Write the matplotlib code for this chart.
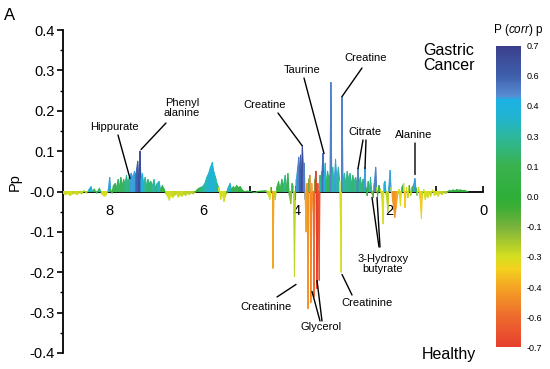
import numpy as np
import matplotlib
matplotlib.use("Agg")
import matplotlib.pyplot as plt
from matplotlib.collections import PolyCollection
from matplotlib.colors import LinearSegmentedColormap, Normalize
from matplotlib.cm import ScalarMappable

plt.rcParams["font.family"] = ["Liberation Sans", "DejaVu Sans"]
plt.rcParams["axes.unicode_minus"] = False
plt.rcParams["mathtext.fontset"] = "custom"
plt.rcParams["mathtext.rm"] = "Liberation Sans"
plt.rcParams["mathtext.it"] = "Liberation Sans:italic"

# S-line loadings: chemical shift (ppm), Pp, p(corr)
ppm = [
    9.00, 8.95, 8.90, 8.85, 8.80, 8.75, 8.70, 8.65, 8.60, 8.55, 8.50, 8.45,
    8.40, 8.37, 8.33, 8.28, 8.22, 8.17, 8.12, 8.07, 8.03, 8.00, 7.98, 7.95,
    7.92, 7.88, 7.85, 7.82, 7.79, 7.76, 7.73, 7.70, 7.67, 7.64, 7.61, 7.58,
    7.56, 7.54, 7.50, 7.47, 7.44, 7.40, 7.38, 7.35, 7.33, 7.30, 7.27, 7.24,
    7.21, 7.18, 7.15, 7.12, 7.08, 7.05, 7.02, 6.98, 6.94, 6.91, 6.87, 6.83,
    6.80, 6.76, 6.72, 6.69, 6.65, 6.61, 6.57, 6.53, 6.49, 6.45, 6.41, 6.37,
    6.33, 6.29, 6.25, 6.21, 6.17, 6.13, 6.09, 6.05, 6.01, 5.96, 5.92, 5.88,
    5.84, 5.80, 5.77, 5.73, 5.70, 5.66, 5.62, 5.59, 5.55, 5.52, 5.49, 5.46,
    5.42, 5.39, 5.35, 5.31, 5.28, 5.24, 5.20, 5.16, 5.12, 5.05, 4.95, 4.85,
    4.75, 4.65, 4.60, 4.57, 4.54, 4.51, 4.50, 4.48, 4.45, 4.42, 4.38, 4.35,
    4.31, 4.27, 4.24, 4.21, 4.18, 4.15, 4.12, 4.09, 4.06, 4.04, 4.02, 4.00,
    3.97, 3.95, 3.93, 3.91, 3.89, 3.87, 3.85, 3.83, 3.81, 3.79, 3.77, 3.75,
    3.73, 3.71, 3.69, 3.67, 3.64, 3.62, 3.60, 3.58, 3.56, 3.54, 3.51, 3.49,
    3.47, 3.45, 3.43, 3.41, 3.38, 3.36, 3.33, 3.30, 3.28, 3.26, 3.24, 3.22,
    3.19, 3.16, 3.13, 3.10, 3.07, 3.04, 3.03, 3.02, 3.00, 2.97, 2.94, 2.91,
    2.88, 2.85, 2.82, 2.79, 2.76, 2.73, 2.70, 2.68, 2.66, 2.63, 2.60, 2.57,
    2.55, 2.53, 2.51, 2.48, 2.46, 2.43, 2.41, 2.38, 2.35, 2.33, 2.30, 2.28,
    2.26, 2.23, 2.20, 2.17, 2.14, 2.12, 2.10, 2.07, 2.04, 2.02, 1.99, 1.97,
    1.94, 1.91, 1.89, 1.86, 1.83, 1.80, 1.77, 1.74, 1.70, 1.67, 1.64, 1.61,
    1.58, 1.55, 1.52, 1.49, 1.46, 1.44, 1.41, 1.38, 1.35, 1.32, 1.30, 1.27,
    1.24, 1.21, 1.18, 1.15, 1.12, 1.08, 1.04, 1.00, 0.96, 0.92, 0.88, 0.84,
    0.80, 0.76, 0.72, 0.68, 0.64, 0.60, 0.56, 0.52, 0.48, 0.44, 0.40, 0.36,
    0.32,
]
pp = [
    -0.004, -0.008, -0.005, -0.010, -0.006, -0.004, -0.008, -0.003, -0.006, 0.002, -0.004, 0.004,
    0.012, 0.000, 0.006, -0.004, 0.008, -0.006, -0.012, -0.008, 0.005, 0.035, 0.005, -0.004,
    0.015, 0.020, 0.010, 0.030, 0.012, 0.035, 0.015, 0.030, 0.020, 0.040, 0.020, 0.035,
    0.030, 0.045, 0.035, 0.050, 0.040, 0.075, 0.030, 0.100, 0.030, 0.045, 0.020, 0.035,
    0.015, 0.030, 0.020, 0.025, 0.015, 0.030, 0.010, 0.020, 0.025, 0.005, 0.015, 0.005,
    -0.005, -0.012, -0.022, -0.008, -0.015, -0.010, -0.005, -0.014, -0.008, -0.012, -0.006, -0.010,
    -0.004, -0.008, -0.003, -0.006, -0.002, 0.004, 0.008, 0.010, 0.012, 0.020, 0.035, 0.045,
    0.060, 0.072, 0.050, 0.035, 0.020, 0.010, -0.020, -0.005, -0.025, -0.012, -0.004, 0.010,
    0.020, 0.005, 0.012, 0.008, 0.015, 0.010, 0.012, 0.004, 0.000, 0.001, 0.000, 0.000,
    0.001, 0.002, -0.008, -0.020, 0.010, -0.010, -0.190, -0.010, -0.020, 0.010, 0.025, 0.005,
    0.030, 0.015, 0.040, 0.010, 0.045, -0.010, -0.030, 0.020, 0.010, -0.210, -0.020, 0.030,
    0.060, 0.085, 0.050, 0.090, 0.040, 0.114, 0.060, 0.070, -0.020, -0.100, 0.020, -0.290,
    0.030, 0.040, -0.275, 0.020, -0.050, -0.260, 0.030, 0.050, -0.240, 0.020, -0.220, 0.040,
    0.020, 0.050, 0.094, 0.030, 0.070, 0.020, 0.050, 0.030, 0.040, 0.270, 0.030, 0.060,
    0.020, 0.080, 0.030, 0.060, 0.025, -0.200, 0.020, 0.235, 0.030, 0.045, 0.020, 0.050,
    0.030, 0.045, 0.020, 0.040, 0.025, 0.035, 0.020, 0.057, 0.020, 0.035, 0.015, 0.030,
    0.020, 0.060, 0.010, -0.010, 0.025, 0.010, 0.035, -0.005, -0.015, 0.020, 0.060, 0.010,
    -0.012, 0.015, 0.005, -0.015, -0.080, 0.020, 0.025, -0.010, -0.050, 0.010, 0.052, 0.010,
    -0.020, -0.045, -0.064, -0.040, -0.010, 0.005, -0.035, 0.010, 0.020, -0.040, 0.010, -0.015,
    0.015, -0.010, 0.010, 0.015, 0.032, 0.010, -0.010, 0.010, -0.015, -0.067, -0.010, 0.005,
    -0.020, -0.010, -0.015, -0.005, -0.012, 0.004, -0.010, -0.006, -0.012, -0.003, -0.008, -0.002,
    -0.005, -0.002, 0.003, 0.001, 0.004, 0.002, 0.005, 0.003, 0.004, 0.002, 0.003, 0.001,
    0.000,
]
corr = [
    -0.25, -0.28, -0.25, -0.30, -0.25, -0.22, -0.28, -0.20, -0.25, 0.00, -0.22, 0.05,
    0.40, 0.00, 0.10, -0.20, 0.15, -0.25, -0.30, -0.28, 0.10, 0.45, 0.05, -0.15,
    0.05, 0.10, 0.05, 0.15, 0.05, 0.12, 0.05, 0.15, 0.10, 0.25, 0.10, 0.20,
    0.15, 0.45, 0.40, 0.45, 0.40, 0.60, 0.40, 0.65, 0.40, 0.40, 0.20, 0.30,
    0.10, 0.20, 0.10, 0.20, 0.10, 0.30, 0.05, 0.20, 0.35, 0.05, 0.10, 0.02,
    -0.20, -0.28, -0.30, -0.25, -0.28, -0.25, -0.20, -0.28, -0.25, -0.28, -0.22, -0.25,
    -0.20, -0.25, -0.18, -0.22, -0.10, 0.00, 0.05, 0.10, 0.20, 0.30, 0.32, 0.34,
    0.36, 0.38, 0.34, 0.32, 0.30, 0.25, -0.30, -0.20, -0.30, -0.28, -0.15, 0.05,
    0.35, 0.05, 0.10, 0.05, 0.10, 0.05, 0.05, 0.00, 0.00, 0.00, 0.00, 0.00,
    0.00, 0.00, -0.20, -0.30, 0.05, -0.20, -0.40, -0.20, -0.25, 0.05, 0.10, 0.05,
    0.12, 0.05, 0.25, 0.05, 0.10, -0.15, -0.15, 0.10, 0.05, -0.25, -0.20, 0.20,
    0.45, 0.50, 0.40, 0.60, 0.40, 0.65, 0.45, 0.50, -0.30, -0.40, 0.10, -0.45,
    0.10, 0.05, -0.50, 0.10, -0.40, -0.60, 0.10, 0.10, -0.70, 0.10, -0.65, 0.20,
    0.10, 0.40, 0.55, 0.20, 0.40, 0.10, 0.15, 0.10, 0.15, 0.50, 0.10, 0.30,
    0.10, 0.45, 0.20, 0.30, 0.10, -0.30, 0.10, 0.50, 0.15, 0.30, 0.10, 0.25,
    0.15, 0.25, 0.10, 0.20, 0.15, 0.25, 0.10, 0.50, 0.15, 0.25, 0.10, 0.20,
    0.10, 0.45, 0.05, -0.25, 0.15, 0.05, 0.30, -0.10, -0.10, 0.10, 0.50, 0.05,
    -0.20, 0.10, 0.00, -0.28, -0.30, 0.15, 0.40, -0.20, -0.25, 0.05, 0.45, 0.05,
    -0.30, -0.45, -0.45, -0.40, -0.25, 0.00, -0.30, 0.05, 0.10, -0.35, 0.05, -0.28,
    0.10, -0.25, 0.05, 0.10, 0.45, 0.05, -0.25, 0.05, -0.28, -0.35, -0.25, 0.00,
    -0.30, -0.28, -0.30, -0.22, -0.28, 0.00, -0.28, -0.25, -0.30, -0.20, -0.25, -0.15,
    -0.22, -0.15, 0.00, 0.00, 0.05, 0.00, 0.05, 0.00, 0.02, 0.00, 0.02, 0.00,
    0.00,
]

# colour-bar categories, top to bottom
cbar_labels = ["0.7", "0.6", "0.4", "0.3", "0.1", "0.0", "-0.1", "-0.3", "-0.4", "-0.6", "-0.7"]
cbar_values = [0.7, 0.6, 0.4, 0.3, 0.1, 0.0, -0.1, -0.3, -0.4, -0.6, -0.7]

# colour stops on the 0..10 index scale of the colour bar (0 = bottom)
stops = [
    (0.0, "#e63f2f"), (1.0, "#ee6a2d"), (2.0, "#f4a524"), (2.6, "#f3d21e"),
    (3.0, "#d4df20"), (4.0, "#78b23c"), (4.6, "#3fae36"), (5.0, "#2eae3a"),
    (6.0, "#3ab24e"), (7.0, "#2cb79c"), (7.6, "#22b4cf"), (8.25, "#1cb0e4"),
    (8.3, "#5a8fd6"), (9.0, "#3f60ac"), (10.0, "#3b3f8c"),
]
cmap = LinearSegmentedColormap.from_list("pcorr", [(p / 10.0, c) for p, c in stops])
norm = Normalize(0, 10)

idx_vals = np.arange(len(cbar_values))[::-1]


def corr_to_idx(c):
    return np.interp(c, cbar_values[::-1], idx_vals[::-1])


fig = plt.figure(figsize=(5.5, 3.69), dpi=100)
ax = fig.add_axes([63 / 550, 16 / 369, 420 / 550, 323 / 369])

x = np.array(ppm)
y = np.array(pp)
c = np.array(corr)
polys, cols = [], []
for i in range(len(x) - 1):
    polys.append([(x[i], 0), (x[i], y[i]), (x[i + 1], y[i + 1]), (x[i + 1], 0)])
    j = i if abs(y[i]) >= abs(y[i + 1]) else i + 1
    cols.append(cmap(norm(corr_to_idx(c[j]))))
pc = PolyCollection(polys, facecolors=cols, edgecolors=cols, linewidths=0.7, zorder=3)
ax.add_collection(pc)

ax.set_xlim(9.0, 0.0)
ax.set_ylim(-0.4, 0.4)
ax.spines["top"].set_visible(False)
ax.spines["right"].set_visible(False)
ax.spines["bottom"].set_position(("data", 0))
ax.spines["left"].set_linewidth(1.3)
ax.spines["bottom"].set_linewidth(1.3)

ax.set_yticks(np.arange(-0.4, 0.41, 0.1))
ax.set_yticklabels([f"{v:.1f}" for v in np.arange(-0.4, 0.41, 0.1)])
ax.set_yticks(np.arange(-0.35, 0.4, 0.1), minor=True)
ax.tick_params(axis="y", which="major", length=4, width=1.2, labelsize=10.5, pad=2)
ax.tick_params(axis="y", which="minor", length=2.5, width=1.0)

ax.set_xticks([8, 6, 4, 2, 0])
ax.set_xticklabels(["8", "6", "4", "2", "0"])
ax.set_xticks([7, 5, 3, 1], minor=True)
ax.tick_params(axis="x", which="both", direction="in", length=4, width=1.2,
               labelsize=10.5, pad=9)

fig.text(15 / 550, 1 - 182 / 369, "Pp", rotation=90, ha="center", va="center", fontsize=10.5)
fig.text(10 / 550, 1 - 15 / 369, "A", ha="center", va="center", fontsize=12)
fig.text(449 / 550, 1 - 58 / 369, "Gastric\nCancer", ha="center", va="center",
         fontsize=11.5, linespacing=1.05)
fig.text(449 / 550, 1 - 354 / 369, "Healthy", ha="center", va="center", fontsize=11.5)


def fp(px, py):
    return (px / 550, 1 - py / 369)


def dp(px, py):
    return ((483 - px) / 46.67, (191 - py) / 404)


labels = [
    ("Hippurate", (114, 127), [((118, 135), (130, 178))]),
    ("Phenyl\nalanine", (182, 108), [((166, 123), (141, 149))]),
    ("Creatine", (265, 105), [((278, 113), (302, 145))]),
    ("Taurine", (302, 70), [((304, 78), (324, 153))]),
    ("Creatine", (366, 58), [((362, 68), (342, 96))]),
    ("Citrate", (365, 132), [((363, 140), (358, 168)), ((366, 140), (365, 168))]),
    ("Alanine", (414, 135), [((415, 143), (415, 174))]),
    ("3-Hydroxy\nbutyrate", (383, 264), [((379, 247), (372, 197)), ((380, 247), (377, 197))]),
    ("Creatinine", (266, 307), [((277, 297), (296, 284))]),
    ("Glycerol", (321, 327), [((320, 321), (312, 291)), ((322, 321), (317, 280))]),
    ("Creatinine", (367, 303), [((352, 295), (342, 274))]),
]
for text, (tx, ty), lines in labels:
    fig.text(*fp(tx, ty), text, ha="center", va="center", fontsize=8, linespacing=1.1)
    for start, end in lines:
        ax.annotate("", xy=dp(*end), xycoords="data", xytext=fp(*start),
                    textcoords="figure fraction",
                    arrowprops=dict(arrowstyle="-", lw=1.0, color="black",
                                    shrinkA=0, shrinkB=0), zorder=4)

cax = fig.add_axes([496 / 550, 20 / 369, 25 / 550, 305 / 369])
sm = ScalarMappable(norm=norm, cmap=cmap)
cb = fig.colorbar(sm, cax=cax, ticks=list(idx_vals))
cb.ax.set_yticklabels(cbar_labels)
cb.outline.set_visible(False)
cb.ax.tick_params(length=0, labelsize=6.5, pad=4)
cax.set_ylim(-0.05, 10.05)
fig.text(518 / 550, 1 - 30 / 369, r"P ($\it{corr}$) p", ha="center", va="center", fontsize=8.5)

fig.savefig("out.png", dpi=100)
